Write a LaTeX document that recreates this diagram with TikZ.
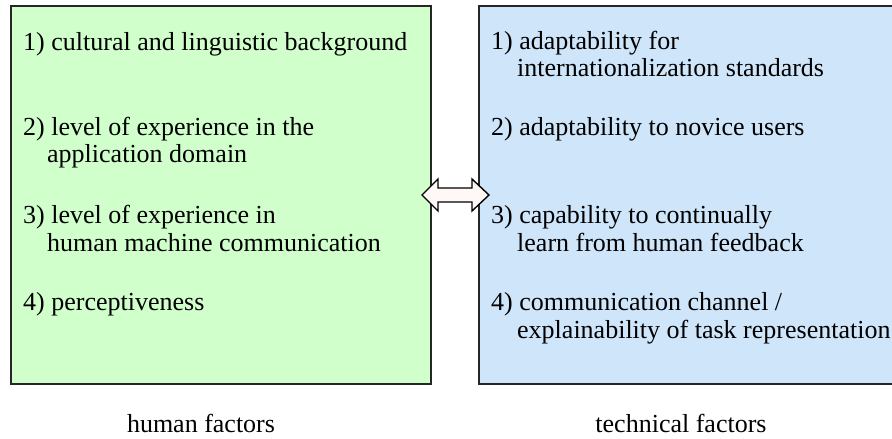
\documentclass[tikz,border=0pt]{standalone}
\usepackage{fontspec}
\setmainfont{Liberation Serif}
\definecolor{humanfill}{RGB}{208,255,204}
\definecolor{techfill}{RGB}{207,229,250}
\definecolor{arrowfill}{RGB}{255,248,246}
\tikzset{
  panel/.style={draw=black!85, line width=1.5pt},
  item/.style={anchor=base west, inner sep=0pt, font=\fontsize{26}{28}\selectfont},
  caption/.style={anchor=base, inner sep=0pt, font=\fontsize{26}{28}\selectfont},
}
\begin{document}
\begin{tikzpicture}[x=1pt,y=-1pt]
\useasboundingbox (0,0) rectangle (892,439);
% two panels
\draw[panel, fill=humanfill] (11,6) rectangle (431,384);
\draw[panel, fill=techfill] (479,6) rectangle (905,384);
% human factors
\node[item] (h1) at (23,50) {1) cultural and linguistic background};
\node[item] (h2) at (23,135) {2) level of experience in the};
\node[item] (h2b) at (47,162) {application domain};
\node[item] (h3) at (23,223) {3) level of experience in};
\node[item] (h3b) at (47,251) {human machine communication};
\node[item] (h4) at (23,310) {4) perceptiveness};
% technical factors
\node[item] (t1) at (491,49) {1) adaptability for};
\node[item] (t1b) at (517,76) {internationalization standards};
\node[item] (t2) at (491,135) {2) adaptability to novice users};
\node[item] (t3) at (491,223) {3) capability to continually};
\node[item] (t3b) at (517,251) {learn from human feedback};
\node[item] (t4) at (491,310) {4) communication channel /};
\node[item] (t4b) at (517,338) {explainability of task representation};
% captions
\node[caption] (hcap) at (201,432) {human factors};
\node[caption] (tcap) at (681,432) {technical factors};
% double block arrow between the panels
\draw[line width=1.4pt, fill=arrowfill, line join=miter]
  (422,195) -- (438,179) -- (438,188) -- (472,188) -- (472,179) -- (489,195)
  -- (472,211) -- (472,202) -- (438,202) -- (438,211) -- cycle;
\end{tikzpicture}
\end{document}
